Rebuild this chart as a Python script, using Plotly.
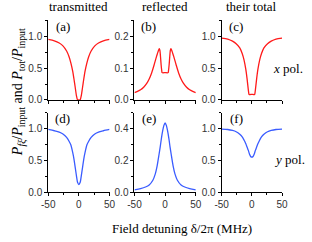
import plotly.graph_objects as go

# detuning grid (MHz)
delta = [-50, -40, -32, -26, -20, -16, -13, -10, -8, -6, -4, -2, 0,
         2, 4, 6, 8, 10, 13, 16, 20, 26, 32, 40, 50]

# (a) transmitted, x pol.
trans_x = [0.952, 0.93, 0.895, 0.85, 0.77, 0.68, 0.58, 0.45, 0.33, 0.2, 0.07, 0.0, 0.0,
           0.0, 0.07, 0.2, 0.33, 0.45, 0.58, 0.68, 0.77, 0.85, 0.895, 0.93, 0.952]

# (b) reflected, x pol. (denser sampling around the twin peaks)
delta_b = [-50, -45, -40, -35, -30, -26, -22, -18, -14, -11, -9.5, -8.5, -7.5, -6.5, -5.5, -5,
           0, 5, 5.5, 6.5, 7.5, 8.5, 9.5, 11, 14, 18, 22, 26, 30, 35, 40, 45, 50]
refl_x = [0.023, 0.027, 0.032, 0.040, 0.052, 0.066, 0.085, 0.11, 0.137, 0.155, 0.161, 0.156,
          0.135, 0.11, 0.092, 0.086, 0.086, 0.086, 0.092, 0.11, 0.135, 0.156, 0.161, 0.155,
          0.137, 0.11, 0.085, 0.066, 0.052, 0.040, 0.032, 0.027, 0.023]

# (c) total, x pol.
delta_c = [-50, -40, -32, -26, -20, -16, -13, -10, -8, -6, -5, -4.5, 0,
           4.5, 5, 6, 8, 10, 13, 16, 20, 26, 32, 40, 50]
total_x = [0.974, 0.958, 0.925, 0.885, 0.82, 0.73, 0.63, 0.48, 0.34, 0.17, 0.1, 0.087, 0.087,
           0.087, 0.1, 0.17, 0.34, 0.48, 0.63, 0.73, 0.82, 0.885, 0.925, 0.958, 0.974]

# (d) transmitted, y pol.
trans_y = [0.985, 0.965, 0.945, 0.915, 0.86, 0.8, 0.74, 0.62, 0.52, 0.39, 0.26, 0.15, 0.12,
           0.15, 0.26, 0.39, 0.52, 0.62, 0.74, 0.8, 0.86, 0.915, 0.945, 0.965, 0.985]

# (e) reflected, y pol.
refl_y = [0.014, 0.022, 0.032, 0.045, 0.075, 0.115, 0.165, 0.235, 0.285, 0.34, 0.385, 0.42, 0.435,
          0.42, 0.385, 0.34, 0.285, 0.235, 0.165, 0.115, 0.075, 0.045, 0.032, 0.022, 0.014]

# (f) total, y pol.
total_y = [0.99, 0.985, 0.97, 0.95, 0.91, 0.87, 0.82, 0.76, 0.71, 0.66, 0.6, 0.56, 0.55,
           0.56, 0.6, 0.66, 0.71, 0.76, 0.82, 0.87, 0.91, 0.95, 0.97, 0.985, 0.99]

col_titles = ["transmitted", "reflected", "their total"]
panel_labels = ["(a)", "(b)", "(c)", "(d)", "(e)", "(f)"]
x_ticks = [-50, 0, 50]
x_tick_text = ["-50", "0", "50"]

RED = "#ff1a1a"
BLUE = "#3a5cff"
W, H = 312, 242

series = [
    (delta, trans_x, RED), (delta_b, refl_x, RED), (delta_c, total_x, RED),
    (delta, trans_y, BLUE), (delta, refl_y, BLUE), (delta, total_y, BLUE),
]
y_specs = [  # (range max, dtick)
    (1.25, 0.5), (0.25, 0.1), (1.25, 0.5),
    (1.25, 0.5), (0.5, 0.2), (1.25, 0.5),
]

col_px = [(43, 107), (133, 197), (224, 287)]
row_px = [(21, 102.5), (115.5, 197)]

fig = go.Figure()
layout = dict(
    width=W, height=H, margin=dict(l=0, r=0, t=0, b=0),
    paper_bgcolor="white", plot_bgcolor="white", showlegend=False,
    font=dict(family="Liberation Sans, Arial", size=10, color="#222"),
)
serif_family = "Liberation Serif, Times New Roman"
annotations = []
for i, (xs, ys, c) in enumerate(series):
    r, cc = divmod(i, 3)
    n = i + 1
    xa = "x" if n == 1 else f"x{n}"
    ya = "y" if n == 1 else f"y{n}"
    fig.add_trace(go.Scatter(x=xs, y=ys, mode="lines", xaxis=xa, yaxis=ya,
                             line=dict(color=c, width=1.3, shape="spline", smoothing=0.7)))
    x0, x1 = col_px[cc]
    y0, y1 = row_px[r]
    ymax, dt = y_specs[i]
    axis_common = dict(showline=True, linecolor="black", linewidth=1, mirror=False,
                       showgrid=False, zeroline=False, ticks="outside", ticklen=3,
                       tickcolor="black", tickwidth=1,
                       tickfont=dict(size=10, color="#333", family="Liberation Sans, Arial"))
    layout["xaxis" if n == 1 else f"xaxis{n}"] = dict(
        domain=[x0 / W, x1 / W], range=[-50, 50], tickvals=x_ticks, ticktext=x_tick_text,
        showticklabels=(r == 1), anchor=ya,
        minor=dict(tickvals=[-25, 25], ticks="outside", ticklen=2, tickcolor="black"),
        **axis_common)
    layout["yaxis" if n == 1 else f"yaxis{n}"] = dict(
        domain=[1 - y1 / H, 1 - y0 / H], range=[0, ymax], dtick=dt, tick0=0,
        tickformat=".1f", anchor=xa,
        minor=dict(dtick=dt / 2, ticks="outside", ticklen=2, tickcolor="black"),
        **axis_common)
    annotations.append(dict(text=panel_labels[i], xref="paper", yref="paper",
                            x=(x0 + 15) / W, y=1 - (y0 + 6) / H, showarrow=False,
                            xanchor="center", yanchor="middle",
                            font=dict(family=serif_family, size=13, color="black")))

for cc, t in enumerate(col_titles):
    x0, x1 = col_px[cc]
    annotations.append(dict(text=t, xref="paper", yref="paper", x=(x0 + x1) / 2 / W,
                            y=1 - 7 / H, showarrow=False, xanchor="center", yanchor="middle",
                            font=dict(family=serif_family, size=13, color="black")))

serif = dict(family=serif_family, size=13, color="black")
annotations.append(dict(text="<i>x</i> pol.", xref="paper", yref="paper", x=276 / W, y=1 - 70 / H,
                        showarrow=False, xanchor="left", yanchor="middle", font=serif,
                        borderpad=0))
annotations.append(dict(text="<i>y</i> pol.", xref="paper", yref="paper", x=278 / W, y=1 - 164 / H,
                        showarrow=False, xanchor="left", yanchor="middle", font=serif,
                        borderpad=0))
annotations.append(dict(text="Field detuning δ/2π (MHz)", xref="paper", yref="paper",
                        x=183 / W, y=1 - 234 / H, showarrow=False, xanchor="center",
                        yanchor="middle", font=serif, borderpad=0))
annotations.append(dict(
    text="<i>P</i><sub><i>fξ</i></sub>/<i>P</i><sub>input</sub> and <i>P</i><sub>tot</sub>/<i>P</i><sub>input</sub>",
    xref="paper", yref="paper", x=12 / W, y=1 - 95 / H, showarrow=False, textangle=-90,
    xanchor="center", yanchor="middle", font=dict(family=serif_family, size=14, color="black")))

layout["annotations"] = annotations
fig.update_layout(**layout)
fig.write_html("out.html", config={"displayModeBar": False},
               post_script="document.body.style.margin='0';")
